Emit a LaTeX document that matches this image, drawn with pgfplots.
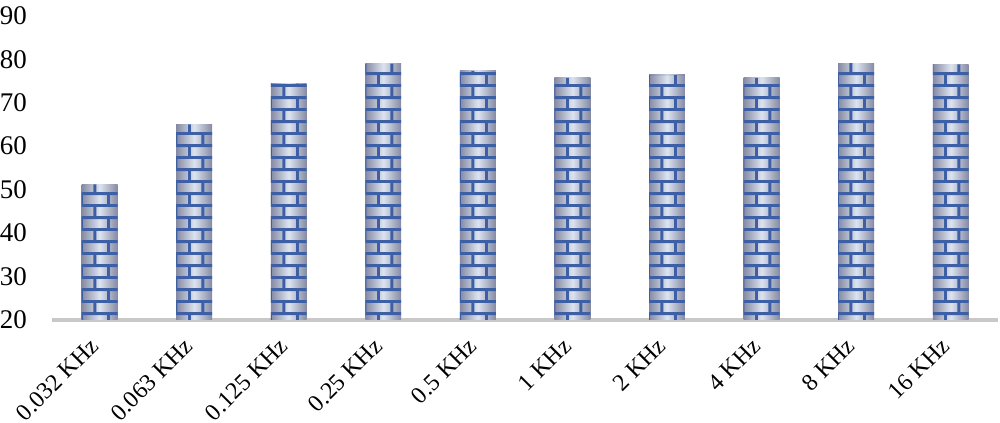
\documentclass[border=0pt]{standalone}
\usepackage{pgfplots}
\pgfplotsset{compat=1.18}
\usepackage{fontspec}
\setmainfont{Liberation Serif}
\usetikzlibrary{patterns}

\definecolor{brickblue}{HTML}{3D5FA6}
\definecolor{baredge}{HTML}{858AA3}
\definecolor{barmid}{HTML}{DDE3EE}
\definecolor{axisgray}{HTML}{C8C8C8}

% brick tile: two courses of 6pt, bricks 13.5pt long
\pgfdeclarepatternformonly{mybricks}{\pgfpointorigin}{\pgfpoint{13.5pt}{12pt}}{\pgfpoint{13.5pt}{12pt}}{%
  \pgfpathrectangle{\pgfpoint{0pt}{0pt}}{\pgfpoint{13.5pt}{1.5pt}}%
  \pgfpathrectangle{\pgfpoint{0pt}{6pt}}{\pgfpoint{13.5pt}{1.5pt}}%
  \pgfpathrectangle{\pgfpoint{0pt}{0pt}}{\pgfpoint{1.5pt}{6pt}}%
  \pgfpathrectangle{\pgfpoint{6.75pt}{6pt}}{\pgfpoint{1.5pt}{6pt}}%
  \pgfusepath{fill}%
}

\pgfplotsset{
  brickshade/.style={ybar, bar width=18pt, bar shift=0pt, draw=none,
    left color=baredge, right color=baredge, middle color=barmid},
  brickpat/.style={ybar, bar width=18pt, bar shift=0pt, draw=none, forget plot,
    pattern=mybricks, pattern color=brickblue},
}

\begin{document}
\begin{tikzpicture}
\begin{axis}[
  scale only axis,
  width=474pt, height=152.5pt,
  xmin=-0.5, xmax=9.5,
  ymin=20, ymax=90,
  ytick distance=10,
  xtick={0,...,9},
  xticklabels={0.032 KHz,0.063 KHz,0.125 KHz,0.25 KHz,0.5 KHz,1 KHz,2 KHz,4 KHz,8 KHz,16 KHz},
  axis lines*=left,
  x axis line style={draw=axisgray, line width=2pt, -},
  y axis line style={draw=none},
  major tick length=0pt,
  yticklabel style={font=\fontsize{13.5}{14}\selectfont, inner xsep=0pt, xshift=-12.5pt},
  /pgf/number format/assume math mode=true,
  xticklabel style={font=\fontsize{12}{13}\selectfont, inner sep=0pt, xshift=-5.5pt, yshift=-8pt, rotate=45, anchor=north east},
]
\addplot[brickshade] coordinates {(0,51.2)};
\addplot[brickshade] coordinates {(1,65.0)};
\addplot[brickshade] coordinates {(2,74.4)};
\addplot[brickshade] coordinates {(3,79.0)};
\addplot[brickshade] coordinates {(4,77.3)};
\addplot[brickshade] coordinates {(5,75.7)};
\addplot[brickshade] coordinates {(6,76.4)};
\addplot[brickshade] coordinates {(7,75.7)};
\addplot[brickshade] coordinates {(8,79.1)};
\addplot[brickshade] coordinates {(9,78.8)};
\addplot[brickpat] coordinates {(0,51.2) (1,65.0) (2,74.4) (3,79.0) (4,77.3) (5,75.7) (6,76.4) (7,75.7) (8,79.1) (9,78.8)};
\end{axis}
\end{tikzpicture}
\end{document}
